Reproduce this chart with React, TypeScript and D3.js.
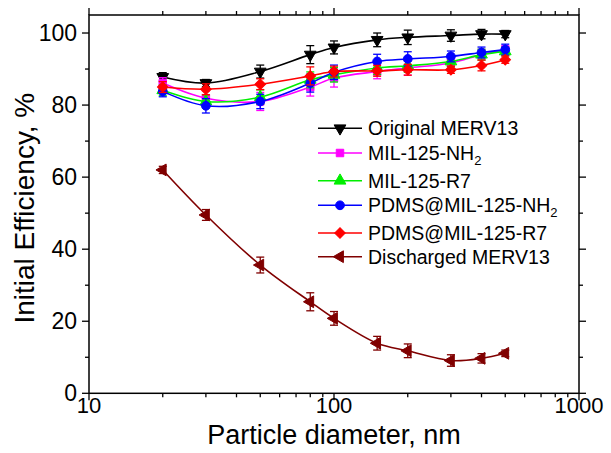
import React from "react";
import * as d3 from "d3";

// Particle diameters (nm)
const diameters = [20, 30, 50, 80, 100, 150, 200, 300, 400, 500];

// Initial efficiency (%) and error bars for each filter
const originalMerv13 = [87.8, 86.1, 89.3, 94.0, 96.0, 98.1, 98.8, 99.3, 99.7, 99.7];
const originalMerv13Err = [1.2, 1.0, 1.8, 2.5, 1.8, 1.9, 2.0, 1.6, 1.3, 1.0];

const mil125Nh2 = [86.1, 81.9, 81.0, 85.0, 87.5, 89.3, 90.3, 91.7, 94.0, 95.4];
const mil125Nh2Err = [1.5, 2.0, 2.5, 2.5, 2.5, 2.0, 2.0, 1.5, 1.5, 1.0];

const mil125R7 = [84.1, 81.0, 82.2, 87.0, 88.4, 90.3, 90.9, 92.1, 94.0, 94.9];
const mil125R7Err = [1.5, 1.8, 2.0, 2.2, 2.0, 1.8, 1.8, 1.5, 1.5, 1.2];

const pdmsNh2 = [83.8, 79.8, 81.0, 86.1, 89.1, 92.1, 92.8, 93.5, 94.6, 95.4];
const pdmsNh2Err = [1.5, 2.0, 2.0, 2.5, 2.0, 2.0, 2.0, 1.5, 1.5, 1.5];

const pdmsR7 = [85.0, 84.4, 85.8, 88.1, 89.3, 89.5, 89.8, 89.8, 91.0, 92.6];
const pdmsR7Err = [1.5, 1.5, 1.5, 2.5, 1.5, 1.5, 1.5, 1.0, 1.5, 1.0];

const dischargedMerv13 = [62.0, 49.5, 35.6, 25.4, 20.8, 13.9, 11.8, 9.1, 9.7, 11.1];
const dischargedMerv13Err = [1.0, 1.5, 2.2, 2.5, 1.9, 1.9, 1.9, 1.6, 1.3, 0.9];

const yTicks = [0, 20, 40, 60, 80, 100];
const yMinorTicks = [10, 30, 50, 70, 90];
const xTicks = [10, 100, 1000];
const xMinorTicks = [20, 30, 40, 50, 60, 70, 80, 90, 200, 300, 400, 500, 600, 700, 800, 900];

type Marker = "down" | "square" | "up" | "circle" | "diamond" | "left";

const series: {
  name: string;
  sub?: string;
  values: number[];
  errors: number[];
  color: string;
  marker: Marker;
}[] = [
  { name: "Original MERV13", values: originalMerv13, errors: originalMerv13Err, color: "#000000", marker: "down" },
  { name: "MIL-125-NH", sub: "2", values: mil125Nh2, errors: mil125Nh2Err, color: "#ff00ff", marker: "square" },
  { name: "MIL-125-R7", values: mil125R7, errors: mil125R7Err, color: "#00ee00", marker: "up" },
  { name: "PDMS@MIL-125-NH", sub: "2", values: pdmsNh2, errors: pdmsNh2Err, color: "#0000ff", marker: "circle" },
  { name: "PDMS@MIL-125-R7", values: pdmsR7, errors: pdmsR7Err, color: "#ff0000", marker: "diamond" },
  { name: "Discharged MERV13", values: dischargedMerv13, errors: dischargedMerv13Err, color: "#800000", marker: "left" },
];

const legendRows = [128.3, 153, 180.7, 205.3, 233, 256.7];

const W = 611;
const H = 453;
const left = 89;
const right = 579;
const top = 15;
const bottom = 393.3;

const FONT = "'Liberation Sans', Arial, sans-serif";

function markerPath(kind: Marker): { d: string; rotate: number } {
  switch (kind) {
    case "down":
      return { d: d3.symbol(d3.symbolTriangle, 60)() as string, rotate: 180 };
    case "up":
      return { d: d3.symbol(d3.symbolTriangle, 60)() as string, rotate: 0 };
    case "left":
      return { d: d3.symbol(d3.symbolTriangle, 60)() as string, rotate: -90 };
    case "square":
      return { d: d3.symbol(d3.symbolSquare, 56)() as string, rotate: 0 };
    case "circle":
      return { d: d3.symbol(d3.symbolCircle, 60)() as string, rotate: 0 };
    case "diamond":
      return { d: d3.symbol(d3.symbolSquare, 56)() as string, rotate: 45 };
  }
}

function MarkerShape({ kind, x, y, color }: { kind: Marker; x: number; y: number; color: string }) {
  const { d, rotate } = markerPath(kind);
  return <path d={d} transform={`translate(${x},${y}) rotate(${rotate})`} fill={color} stroke={color} strokeWidth={1} />;
}

export default function App() {
  const x = d3.scaleLog().domain([10, 1000]).range([left, right]);
  const y = d3.scaleLinear().domain([0, 105]).range([bottom, top]);

  const line = d3
    .line<[number, number]>()
    .x((d) => x(d[0]))
    .y((d) => y(d[1]))
    .curve(d3.curveCatmullRom.alpha(0.5));

  const capHalf = 4;

  return (
    <svg
      width={W}
      height={H}
      style={{ position: "absolute", left: 0, top: 0, background: "#fff" }}
      fontFamily={FONT}
    >
      <rect x={0} y={0} width={W} height={H} fill="#fff" />

      {/* series: line, error bars, markers */}
      {series.map((s) => {
        const pts = diameters.map((dd, i) => [dd, s.values[i]] as [number, number]);
        return (
          <g key={s.name}>
            <path d={line(pts) as string} fill="none" stroke={s.color} strokeWidth={1.6} />
            {diameters.map((dd, i) => {
              const cx = x(dd);
              const y1 = y(s.values[i] + s.errors[i]);
              const y2 = y(s.values[i] - s.errors[i]);
              return (
                <g key={i} stroke={s.color} strokeWidth={1.3}>
                  <line x1={cx} x2={cx} y1={y1} y2={y2} />
                  <line x1={cx - capHalf} x2={cx + capHalf} y1={y1} y2={y1} />
                  <line x1={cx - capHalf} x2={cx + capHalf} y1={y2} y2={y2} />
                </g>
              );
            })}
            {diameters.map((dd, i) => (
              <MarkerShape key={"m" + i} kind={s.marker} x={x(dd)} y={y(s.values[i])} color={s.color} />
            ))}
          </g>
        );
      })}

      {/* frame */}
      <rect x={left} y={top} width={right - left} height={bottom - top} fill="none" stroke="#000" strokeWidth={1.5} />

      {/* left and right axis ticks */}
      {yTicks.map((t) => (
        <g key={"yt" + t} stroke="#000" strokeWidth={1.3}>
          <line x1={left - 7} x2={left} y1={y(t)} y2={y(t)} />
          <line x1={right} x2={right + 7} y1={y(t)} y2={y(t)} />
        </g>
      ))}
      {yMinorTicks.map((t) => (
        <g key={"ym" + t} stroke="#000" strokeWidth={1.3}>
          <line x1={left - 4} x2={left} y1={y(t)} y2={y(t)} />
          <line x1={right} x2={right + 4} y1={y(t)} y2={y(t)} />
        </g>
      ))}
      {yTicks.map((t) => (
        <text
          key={"yl" + t}
          x={left - 12}
          y={y(t)}
          dy="0.35em"
          textAnchor="end"
          fontSize={23}
          fill="#000"
        >
          {t}
        </text>
      ))}

      {/* bottom and top axis ticks */}
      {xTicks.map((t) => (
        <g key={"xt" + t} stroke="#000" strokeWidth={1.3}>
          <line x1={x(t)} x2={x(t)} y1={bottom} y2={bottom + 7} />
          <line x1={x(t)} x2={x(t)} y1={top - 7} y2={top} />
        </g>
      ))}
      {xMinorTicks.map((t) => (
        <g key={"xm" + t} stroke="#000" strokeWidth={1.3}>
          <line x1={x(t)} x2={x(t)} y1={bottom} y2={bottom + 4} />
          <line x1={x(t)} x2={x(t)} y1={top - 4} y2={top} />
        </g>
      ))}
      {xTicks.map((t) => (
        <text key={"xl" + t} x={x(t)} y={413} textAnchor="middle" fontSize={22} fill="#000">
          {t}
        </text>
      ))}

      {/* axis titles */}
      <text x={(left + right) / 2} y={444} textAnchor="middle" fontSize={27} fill="#000">
        Particle diameter, nm
      </text>
      <text
        transform={`translate(34, ${(top + bottom) / 2 + 4}) rotate(-90)`}
        textAnchor="middle"
        fontSize={28}
        fill="#000"
      >
        Initial Efficiency, %
      </text>

      {/* legend */}
      {series.map((s, i) => {
        const ly = legendRows[i];
        return (
          <g key={"lg" + i}>
            <line x1={318} x2={362} y1={ly} y2={ly} stroke={s.color} strokeWidth={1.6} />
            <MarkerShape kind={s.marker} x={340} y={ly} color={s.color} />
            <text x={368} y={ly} dy="0.36em" fontSize={19.5} fill="#000">
              {s.name}
              {s.sub && (
                <tspan fontSize={13} dy="5">
                  {s.sub}
                </tspan>
              )}
            </text>
          </g>
        );
      })}
    </svg>
  );
}
